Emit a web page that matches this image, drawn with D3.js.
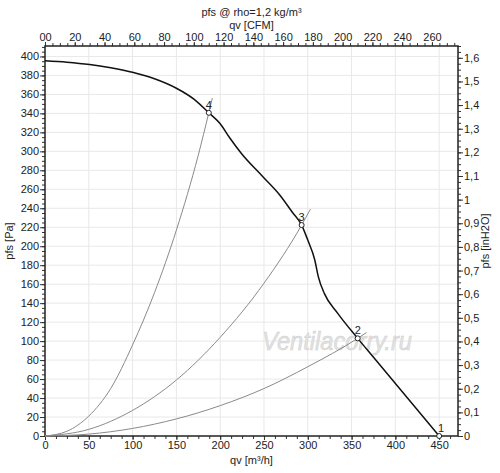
<!DOCTYPE html>
<html>
<head>
<meta charset="utf-8">
<script src="https://cdn.jsdelivr.net/npm/d3@7"></script>
<style>
  body { margin: 0; background: #fff; }
  text { font-family: "Liberation Sans", Arial, sans-serif; fill: #222; }
  .grid line { stroke: #e8e8e8; stroke-width: 1; }
  .axis path { display: none; }
  .axis line { stroke: #333; }
  .axis text { font-size: 11px; }
</style>
</head>
<body>
<div id="vis1"></div>
<script>
const FRAME_HEIGHT = 473;
const FRAME_WIDTH = 500;
const MARGINS = {left: 45, right: 42, top: 46, bottom: 37};

// fan curve (qv in m3/h, pfs in Pa)
const fanQ = [0, 25, 51, 75, 101, 125, 150, 170, 187, 200, 211, 224, 249, 268, 283, 293, 300, 308, 312, 319, 334, 357, 376, 450];
const fanP = [395.5, 394, 391.5, 388, 383, 376.5, 366.5, 355, 340.6, 329, 314, 298, 273, 254, 235, 222.3, 206.5, 185.5, 168, 150, 129.5, 102.9, 82, 0];

// system curves (one per operating point)
const sys4Q = [0, 25, 50, 75, 100, 125, 150, 175, 187, 191];
const sys4P = [0, 5, 21, 50, 96, 151, 217, 296, 340.6, 356];
const sys3Q = [0, 50, 100, 150, 200, 250, 293, 303];
const sys3P = [0, 7, 27, 59, 104, 161, 222.3, 239];
const sys2Q = [0, 50, 100, 150, 200, 250, 300, 357, 367];
const sys2P = [0, 2, 8, 18, 32, 50, 73, 102.9, 109];

// operating points
const ptLabels = ["1", "2", "3", "4"];
const ptQ = [450, 357, 293, 187];
const ptP = [0, 102.9, 222.3, 340.6];

// axis ticks
const bottomTicks = [0, 50, 100, 150, 200, 250, 300, 350, 400, 450];
const topTicks = [0, 20, 40, 60, 80, 100, 120, 140, 160, 180, 200, 220, 240, 260];
const leftTicks = d3.range(0, 401, 20);
const rightTicks = [0, 0.1, 0.2, 0.3, 0.4, 0.5, 0.6, 0.7, 0.8, 0.9, 1, 1.1, 1.2, 1.3, 1.4, 1.5, 1.6];

const Q_MAX = 471.5;
const P_MAX = 411;
const M3H_TO_CFM = 0.588578;
const PA_TO_INH2O = 1 / 249.089;

const VIS_HEIGHT = FRAME_HEIGHT - MARGINS.top - MARGINS.bottom;
const VIS_WIDTH = FRAME_WIDTH - MARGINS.left - MARGINS.right;

const FRAME = d3.select("#vis1")
                .append("svg")
                  .attr("height", FRAME_HEIGHT)
                  .attr("width", FRAME_WIDTH);

// scales
const X_SCALE = d3.scaleLinear().domain([0, Q_MAX]).range([MARGINS.left, MARGINS.left + VIS_WIDTH]);
const X_CFM = d3.scaleLinear().domain([0, Q_MAX * M3H_TO_CFM]).range(X_SCALE.range());
const Y_SCALE = d3.scaleLinear().domain([0, P_MAX]).range([MARGINS.top + VIS_HEIGHT, MARGINS.top]);
const Y_INH2O = d3.scaleLinear().domain([0, P_MAX * PA_TO_INH2O]).range(Y_SCALE.range());

// grid
FRAME.append("g").attr("class", "grid")
  .selectAll("line").data(bottomTicks.filter(d => d > 0)).enter()
  .append("line")
    .attr("x1", d => X_SCALE(d)).attr("x2", d => X_SCALE(d))
    .attr("y1", MARGINS.top).attr("y2", MARGINS.top + VIS_HEIGHT);
FRAME.append("g").attr("class", "grid")
  .selectAll("line").data(leftTicks.filter(d => d > 0)).enter()
  .append("line")
    .attr("x1", MARGINS.left).attr("x2", MARGINS.left + VIS_WIDTH)
    .attr("y1", d => Y_SCALE(d)).attr("y2", d => Y_SCALE(d));

// minor ticks helper
function minor(axisFn, scale, step, max) {
  return axisFn(scale).tickValues(d3.range(0, max + 1e-9, step)).tickSize(3).tickFormat("");
}

const BOTTOM = MARGINS.top + VIS_HEIGHT;
const RIGHT = MARGINS.left + VIS_WIDTH;

FRAME.append("g").attr("class", "axis").attr("transform", "translate(0," + BOTTOM + ")")
  .call(minor(d3.axisBottom, X_SCALE, 12.5, Q_MAX));
FRAME.append("g").attr("class", "axis").attr("transform", "translate(0," + BOTTOM + ")")
  .call(d3.axisBottom(X_SCALE).tickValues(bottomTicks).tickSize(4).tickPadding(1));

FRAME.append("g").attr("class", "axis").attr("transform", "translate(0," + MARGINS.top + ")")
  .call(minor(d3.axisTop, X_CFM, 5, Q_MAX * M3H_TO_CFM));
FRAME.append("g").attr("class", "axis").attr("transform", "translate(0," + MARGINS.top + ")")
  .call(d3.axisTop(X_CFM).tickValues(topTicks).tickSize(4).tickPadding(1)
        .tickFormat(d => d === 0 ? "00" : d));

FRAME.append("g").attr("class", "axis").attr("transform", "translate(" + MARGINS.left + ",0)")
  .call(minor(d3.axisLeft, Y_SCALE, 5, P_MAX));
FRAME.append("g").attr("class", "axis").attr("transform", "translate(" + MARGINS.left + ",0)")
  .call(d3.axisLeft(Y_SCALE).tickValues(leftTicks).tickSize(5).tickPadding(1));

FRAME.append("g").attr("class", "axis").attr("transform", "translate(" + RIGHT + ",0)")
  .call(minor(d3.axisRight, Y_INH2O, 0.025, P_MAX * PA_TO_INH2O));
FRAME.append("g").attr("class", "axis").attr("transform", "translate(" + RIGHT + ",0)")
  .call(d3.axisRight(Y_INH2O).tickValues(rightTicks).tickSize(5).tickPadding(1)
        .tickFormat(d => String(+d.toFixed(1)).replace(".", ",")));

// frame of plot
FRAME.append("rect")
  .attr("x", MARGINS.left).attr("y", MARGINS.top)
  .attr("width", VIS_WIDTH).attr("height", VIS_HEIGHT)
  .attr("fill", "none").attr("stroke", "#222").attr("stroke-width", 1.5);

// watermark
FRAME.append("text")
  .attr("x", 262).attr("y", 350)
  .attr("textLength", 150).attr("lengthAdjust", "spacingAndGlyphs")
  .style("font-size", "25px").style("font-style", "italic")
  .style("fill", "#e2e2e2").style("stroke", "#d0d0d0").style("stroke-width", 0.5)
  .text("Ventilacorry.ru");

// system curves
const sysLine = d3.line()
  .x(d => X_SCALE(d[0])).y(d => Y_SCALE(d[1]))
  .curve(d3.curveMonotoneX);

[[sys4Q, sys4P], [sys3Q, sys3P], [sys2Q, sys2P]].forEach(s => {
  FRAME.append("path")
    .datum(d3.zip(s[0], s[1]))
    .attr("d", sysLine)
    .attr("fill", "none").attr("stroke", "#8a8a8a").attr("stroke-width", 1);
});

// fan curve
FRAME.append("path")
  .datum(d3.zip(fanQ, fanP))
  .attr("d", d3.line().x(d => X_SCALE(d[0])).y(d => Y_SCALE(d[1])).curve(d3.curveMonotoneX))
  .attr("fill", "none").attr("stroke", "#111").attr("stroke-width", 1.5);

// operating points
const pts = d3.zip(ptLabels, ptQ, ptP);
FRAME.selectAll(".pt").data(pts).enter()
  .append("circle")
    .attr("cx", d => X_SCALE(d[1])).attr("cy", d => Y_SCALE(d[2]))
    .attr("r", 2.5)
    .attr("fill", "#fff").attr("stroke", "#222").attr("stroke-width", 1);
FRAME.selectAll(".ptl").data(pts).enter()
  .append("text")
    .attr("x", d => X_SCALE(d[1]) + (d[0] === "1" ? 2 : 0))
    .attr("y", d => Y_SCALE(d[2]) - 4)
    .attr("text-anchor", "middle")
    .style("font-size", "11px")
    .text(d => d[0]);

// titles
const CX = MARGINS.left + VIS_WIDTH / 2;
FRAME.append("text").attr("x", CX).attr("y", 16).attr("text-anchor", "middle")
  .style("font-size", "11px").text("pfs @ rho=1,2 kg/m³");
FRAME.append("text").attr("x", CX).attr("y", 29).attr("text-anchor", "middle")
  .style("font-size", "11px").text("qv [CFM]");
FRAME.append("text").attr("x", CX).attr("y", 464).attr("text-anchor", "middle")
  .style("font-size", "11px").text("qv [m³/h]");
FRAME.append("text")
  .attr("transform", "translate(13," + (MARGINS.top + VIS_HEIGHT / 2) + ") rotate(-90)")
  .attr("text-anchor", "middle").style("font-size", "11px").text("pfs [Pa]");
FRAME.append("text")
  .attr("transform", "translate(489," + (MARGINS.top + VIS_HEIGHT / 2) + ") rotate(-90)")
  .attr("text-anchor", "middle").style("font-size", "11px").text("pfs [inH2O]");
</script>
</body>
</html>
